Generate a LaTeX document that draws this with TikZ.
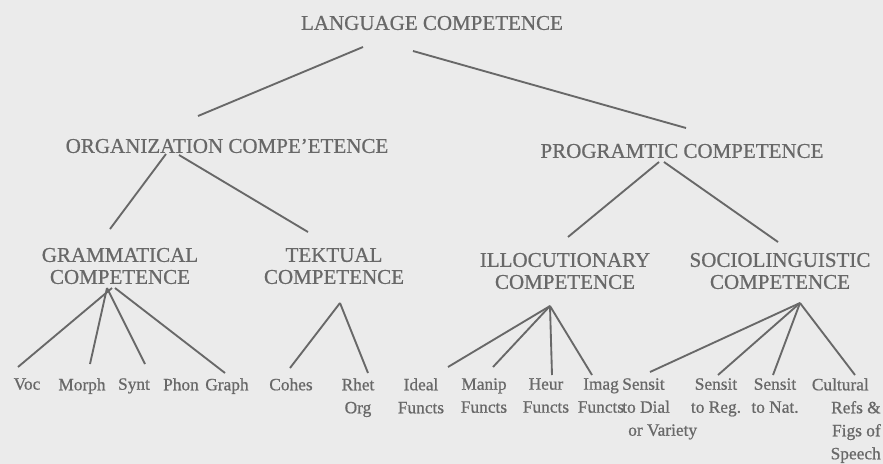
\documentclass[tikz,border=0pt]{standalone}
\usepackage{fontspec}
\setmainfont{Liberation Serif}
\newfontfamily\scanfont{Liberation Serif}[FakeBold=0.7]
\usetikzlibrary{calc}
\definecolor{bg}{HTML}{EBEBEB}
\definecolor{ink}{HTML}{686868}
\begin{document}
\begin{tikzpicture}[x=0.75pt,y=-0.75pt,
  head/.style={text=ink, font=\scanfont\fontsize{15.75}{16.5}\selectfont, align=center, inner sep=0pt},
  leaf/.style={text=ink, font=\scanfont\fontsize{13}{17.25}\selectfont, align=center, inner sep=0pt, anchor=north},
  leafl/.style={leaf, align=left, anchor=north west},
  leafr/.style={leaf, align=right, anchor=north east},
  conn/.style={draw=ink, line width=1.4pt}]
\fill[bg] (0,0) rectangle (883,464);
\useasboundingbox (0,0) rectangle (883,464);

% headings
\node[head] (lang)  at (432,23)  {LANGUAGE COMPETENCE};
\node[head] (org)   at (227,146) {ORGANIZATION COMPE’ETENCE};
\node[head] (prog)  at (682,151) {PROGRAMTIC COMPETENCE};
\node[head] (gram)  at (120,266) {GRAMMATICAL\\COMPETENCE};
\node[head] (tekt)  at (334,266) {TEKTUAL\\COMPETENCE};
\node[head] (illoc) at (565,271) {ILLOCUTIONARY\\COMPETENCE};
\node[head] (socio) at (780,271) {SOCIOLINGUISTIC\\COMPETENCE};

% leaves
\node[leaf] (voc)   at (27,378)  {Voc};
\node[leaf] (morph) at (82,378)  {Morph};
\node[leaf] (synt)  at (134,378) {Synt};
\node[leaf] (phon)  at (181,378) {Phon};
\node[leaf] (graph) at (227,378) {Graph};
\node[leaf] (cohes) at (291,378) {Cohes};
\node[leaf] (rhet)  at (358,378) {Rhet\\Org};
\node[leaf] (ideal) at (421,378) {Ideal\\Functs};
\node[leaf] (manip) at (484,378) {Manip\\Functs};
\node[leaf] (heur)  at (546,378) {Heur\\Functs};
\node[leaf] (imag)  at (601,378) {Imag\\Functs};
\node[leafl] (dial) at (622,378) {Sensit\\to Dial\\\hspace*{4.5pt}or Variety};
\node[leaf] (reg)   at (716,378) {Sensit\\to Reg.};
\node[leaf] (nat)   at (775,378) {Sensit\\to Nat.};
\node[leafr] (cult) at (881,378) {Cultural\hspace*{9pt}\\Refs \&\hspace*{2.5pt}\\Figs of\\Speech};

% connectors
\draw[conn] ($(lang)+(-69,24)$) -- ($(org)+(-29,-30)$);
\draw[conn] ($(lang)+(-19,28)$) -- ($(prog)+(4,-23)$);
\draw[conn] ($(org)+(-61,8)$) -- ($(gram)+(-10,-37)$);
\draw[conn] ($(org)+(-48,9)$) -- ($(tekt)+(-26,-34)$);
\draw[conn] ($(prog)+(-23,11)$) -- ($(illoc)+(3,-34)$);
\draw[conn] ($(prog)+(-18,11)$) -- ($(socio)+(-2,-29)$);

\draw[conn] ($(gram)+(-8,22)$) -- ($(voc.north)+(-9,-11)$);
\draw[conn] ($(gram)+(-13,22)$) -- ($(morph.north)+(8,-14)$);
\draw[conn] ($(gram)+(-13,22)$) -- ($(synt.north)+(11,-14)$);
\draw[conn] ($(gram)+(-5,22)$) -- ($(graph.north)+(-2,-5)$);

\draw[conn] ($(tekt)+(6,37)$) -- ($(cohes.north)+(-1,-10)$);
\draw[conn] ($(tekt)+(6,37)$) -- ($(rhet.north)+(10,-5)$);

\draw[conn] ($(illoc)+(-15,35)$) -- ($(ideal.north)+(27,-11)$);
\draw[conn] ($(illoc)+(-15,35)$) -- ($(manip.north)+(9,-11)$);
\draw[conn] ($(illoc)+(-15,35)$) -- ($(heur.north)+(6,-3)$);
\draw[conn] ($(illoc)+(-15,35)$) -- ($(imag.north)+(-9,-3)$);

\draw[conn] ($(socio)+(20,32)$) -- ($(dial.north west)+(28,-6)$);
\draw[conn] ($(socio)+(20,32)$) -- ($(reg.north)+(2,-3)$);
\draw[conn] ($(socio)+(20,32)$) -- ($(nat.north)+(-2,-3)$);
\draw[conn] ($(socio)+(20,32)$) -- ($(cult.north east)+(-26,-3)$);
\end{tikzpicture}
\end{document}
